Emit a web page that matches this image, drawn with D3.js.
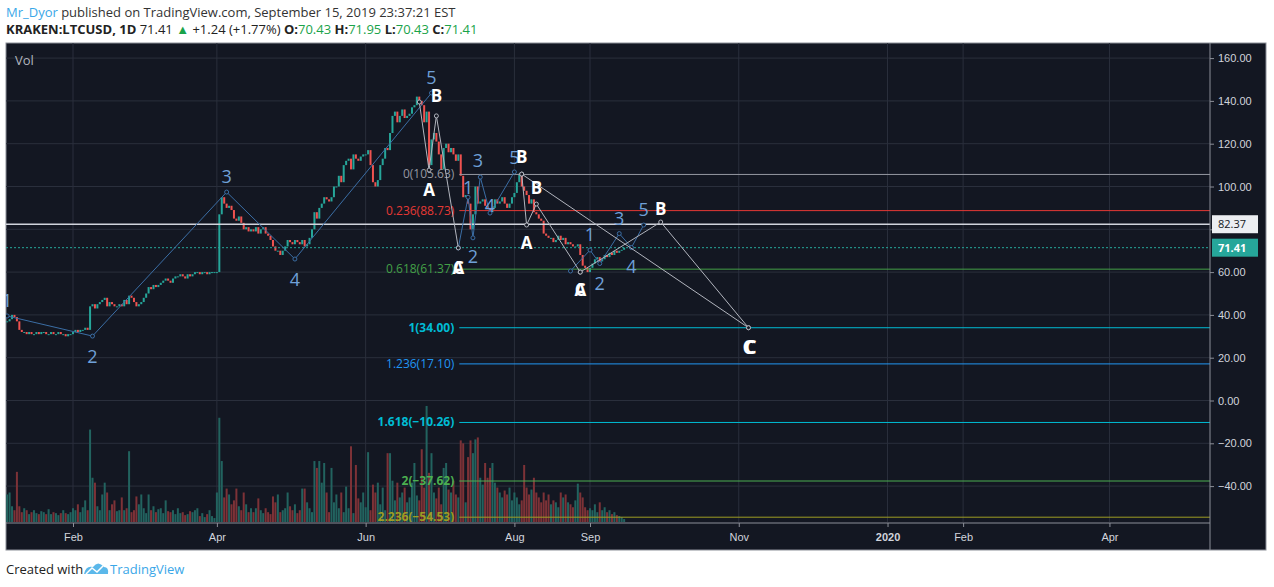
<!DOCTYPE html>
<html><head><meta charset="utf-8">
<script src="https://cdn.jsdelivr.net/npm/d3@7"></script>
<style>body{margin:0;background:#fff}svg{display:block;font-family:"Open Sans",sans-serif}</style>
</head><body><svg id="c" width="1274" height="587"></svg>
<script>
// ---------- DATA ----------
const startDate = "2019-01-05";
const closeJan = [37,38,40,39,37,33,32,32,31,32,31,31,32,31,32,32,31,31,32,31,31,32,31,31,30,31,31];
const closeFeb = [32,33,32,33,33,34,33,44,45,43,45,46,47,48,44,46,45,44,44,45,44,47,45,49,48,46,44,45];
const closeMar = [46,48,50,53,52,54,53,54,55,56,57,56,55,57,58,58,59,58,57,59,58,59,60,60,59,60,60,59,60,60,60];
const closeApr = [60,87,95,92,90,91,89,85,84,86,83,80,81,79,80,79,81,78,80,81,78,77,75,72,70,70,68,70,72,75];
const closeMay = [74,73,75,74,73,75,72,73,76,80,88,85,90,92,95,94,93,95,100,100,105,102,110,112,113,108,115,113,112,114,115];
const closeJun = [115,117,110,102,100,103,110,113,118,117,125,133,135,130,133,136,132,133,134,137,138,142,140,138,130,135,110,122,125,121];
const closeJul = [115,108,118,120,116,118,115,112,115,105,95,96,92,80,87,100,92,93,94,91,90,88,90,94,92,93,95,92,90,92,95];
const closeAug = [97,102,106,100,98,96,92,94,88,87,85,84,78,77,76,76,74,75,77,75,76,73,74,73,72,72,73,68,63,62,60];
const closeSep = [62,64,66,67,65,66,68,67,69,68,70,69,70,70.43,71.41];
const volJan = [28,30,16,12,51,16,10,14,12,8,10,12,9,8,11,10,8,13,8,10,9,7,9,12,9,8,10];
const volFeb = [14,12,18,10,15,22,12,94,45,40,16,12,28,40,30,12,18,22,11,12,25,12,14,72,10,12,26,18];
const volMar = [28,14,9,28,12,16,10,13,14,9,22,11,10,12,8,14,9,10,7,8,11,10,12,14,6,9,5,8,12,6,4];
const volApr = [30,106,62,25,34,28,18,22,34,16,12,30,18,10,14,10,14,24,12,9,14,10,8,26,20,28,10,12,14,30];
const volMay = [16,12,18,9,12,34,34,20,14,10,62,55,62,40,60,30,10,55,20,28,14,30,10,36,14,77,9,58,24,20,30];
const volJun = [15,71,12,38,30,40,18,35,12,70,70,42,22,40,25,30,35,20,25,40,60,27,22,74,35,118,50,70,30,24];
const volJul = [35,18,55,60,33,30,42,28,25,83,80,20,66,83,70,84,86,45,38,60,45,55,60,40,35,30,25,32,28,35,22];
const volAug = [30,25,18,22,58,35,28,33,45,30,25,20,30,22,28,18,22,20,15,30,25,28,20,18,15,22,39,30,25,15,12];
const volSep = [14,12,18,10,20,12,15,10,12,8,10,7,6,5,3];
const priceTicks = [160,140,120,100,80,60,40,20,0,-20,-40];
const hiddenTickLabels = [80];
const monthTicks = [["2019-02-01","Feb"],["2019-04-01","Apr"],["2019-06-01","Jun"],["2019-08-01","Aug"],["2019-09-01","Sep"],["2019-11-01","Nov"],["2020-01-01","2020"],["2020-02-01","Feb"],["2020-04-01","Apr"]];
const fibAnchor = "2019-07-09";
const fibLevels = [["0(105.63)",105.63,"#9598a1"],["0.236(88.73)",88.73,"#e53935"],["0.618(61.37)",61.37,"#43a047"],["1(34.00)",34.00,"#00bcd4"],["1.236(17.10)",17.10,"#2196f3"],["1.618(−10.26)",-10.26,"#00bcd4"],["2(−37.62)",-37.62,"#4caf50"],["2.236(−54.53)",-54.53,"#9e9d24"]];
const waveBlue1 = [["2019-01-05",39.5],["2019-02-09",30.1],["2019-04-05",97.4],["2019-05-03",66.1],["2019-06-28",143.7]];
const waveBlue2 = [["2019-07-09",71.3],["2019-07-13",95],["2019-07-15",76],["2019-07-18",104.4],["2019-07-22",87.6],["2019-08-01",106.8]];
const waveBlue3 = [["2019-08-24",60.5],["2019-09-01",70.3],["2019-09-05",64],["2019-09-13",78],["2019-09-18",71.5],["2019-09-23",82]];
const waveWhite1 = [["2019-06-23",139.5],["2019-06-27",107.7],["2019-06-30",133],["2019-07-09",71.3]];
const waveWhite2 = [["2019-08-04",105.8],["2019-08-06",82],["2019-08-10",91.8],["2019-08-28",60]];
const waveWhite3 = [["2019-08-04",105.8],["2019-11-05",34]];
const waveWhite4 = [["2019-08-28",60],["2019-09-30",83.4],["2019-11-05",34]];
const blueLabels = [["1","2019-01-05",47],["2","2019-02-09",20.8],["3","2019-04-05",105],["4","2019-05-03",56.8],["5","2019-06-28",151],
 ["1","2019-07-13",99.8],["2","2019-07-15",67.5],["3","2019-07-17",112.4],["4","2019-07-22",91.4],["5","2019-08-01",113.8],
 ["1","2019-09-01",78],["2","2019-09-05",55],["3","2019-09-13",85.3],["4","2019-09-18",62.8],["5","2019-09-23",89.5]];
const whiteLabels = [["A","2019-06-27",98.4],["B","2019-06-30",142.3],["C","2019-07-09",61.9],["A","2019-07-09",61.9],
 ["B","2019-08-04",113.8],["A","2019-08-06",73.6],["B","2019-08-10",99.3],["C","2019-08-28",51.6],["A","2019-08-28",51.6],["B","2019-09-30",89.5]];
const bigLabels = [["C","2019-11-05",25]];
const hLineWhite = 82.37, lastPrice = 71.41;

// ---------- SCALES ----------
const parse = d3.utcParse("%Y-%m-%d");
const P = s => parse(s.slice(0,10));
const x = d3.scaleUtc().domain([P("2019-02-01"),P("2019-09-01")]).range([73,590]);
const y = d3.scaleLinear().domain([0,160]).range([400.5,58.1]);
const yv = d3.scaleLinear().domain([0,120]).range([522,404]);
const L=6, R=1210, T=43, B=522;

const closes = [].concat(closeJan,closeFeb,closeMar,closeApr,closeMay,closeJun,closeJul,closeAug,closeSep);
const vols = [].concat(volJan,volFeb,volMar,volApr,volMay,volJun,volJul,volAug,volSep);
const t0 = P(startDate);
const bars = closes.map((c,i)=>({t:d3.utcDay.offset(t0,i), o:i?closes[i-1]:c, c, v:vols[i]}));

const svg = d3.select("#c");
svg.append("rect").attr("x",0).attr("y",0).attr("width",1274).attr("height",587).attr("fill","#fff");
const h1 = svg.append("text").attr("x",6).attr("y",17).attr("font-size",13).attr("fill","#333");
h1.append("tspan").attr("fill","#3aa7e8").text("Mr_Dyor");
h1.append("tspan").text(" published on TradingView.com, September 15, 2019 23:37:21 EST");
const h2 = svg.append("text").attr("x",6).attr("y",34).attr("font-size",13).attr("fill","#222");
h2.append("tspan").attr("font-weight","bold").text("KRAKEN:LTCUSD, 1D");
h2.append("tspan").text("  71.41 ");
h2.append("tspan").attr("fill","#1aa34a").text("▲");
h2.append("tspan").text(" +1.24 (+1.77%) ");
[["O:","70.43"],["H:","71.95"],["L:","70.43"],["C:","71.41"]].forEach(([a,b])=>{
  h2.append("tspan").attr("font-weight","bold").text(a);
  h2.append("tspan").attr("fill","#1aa34a").text(b+" ");
});
svg.append("rect").attr("x",L).attr("y",T).attr("width",1266-L).attr("height",550-T).attr("fill","#131722").attr("stroke","#8c8f98");
svg.append("defs").append("clipPath").attr("id","pc").append("rect").attr("x",L).attr("y",T).attr("width",R-L).attr("height",B-T);
const g = svg.append("g").attr("clip-path","url(#pc)");
priceTicks.forEach(p=>g.append("line").attr("x1",L).attr("x2",R).attr("y1",y(p)).attr("y2",y(p)).attr("stroke","#2a2f3c"));
monthTicks.forEach(([d])=>g.append("line").attr("x1",x(P(d))).attr("x2",x(P(d))).attr("y1",T).attr("y2",B).attr("stroke","#2a2f3c"));
svg.append("line").attr("x1",R).attr("x2",R).attr("y1",T).attr("y2",550).attr("stroke","#8c8f98");
svg.append("line").attr("x1",L).attr("x2",R).attr("y1",B+1).attr("y2",B+1).attr("stroke","#8c8f98");
g.selectAll(".v").data(bars).join("rect").attr("x",d=>x(d.t)-1).attr("width",2)
 .attr("y",d=>yv(d.v)).attr("height",d=>yv(0)-yv(d.v))
 .attr("fill",d=>d.c>=d.o?"#22635f":"#7d3237");
g.selectAll(".k").data(bars).join("rect").attr("x",d=>x(d.t)-1).attr("width",2)
 .attr("y",d=>y(Math.max(d.o,d.c))).attr("height",d=>Math.max(1,Math.abs(y(d.o)-y(d.c))))
 .attr("fill",d=>d.c>=d.o?"#26a69a":"#ef5350");
g.append("line").attr("x1",L).attr("x2",R).attr("y1",y(hLineWhite)).attr("y2",y(hLineWhite)).attr("stroke","#d1d4dc").attr("stroke-width",1.5);
g.append("line").attr("x1",L).attr("x2",R).attr("y1",y(lastPrice)).attr("y2",y(lastPrice)).attr("stroke","#26a69a").attr("stroke-dasharray","2,2");
const fx = x(P(fibAnchor));
fibLevels.forEach(([lab,v,col],i)=>{
  g.append("line").attr("x1",fx+1).attr("x2",R).attr("y1",y(v)).attr("y2",y(v)).attr("stroke",col).attr("stroke-width",1);
  g.append("text").attr("x",fx-4).attr("y",y(v)+4).attr("text-anchor","end").attr("font-size",12)
   .attr("font-weight",i>=3&&i!=4?"bold":"normal").attr("fill",col).text(lab);
});
const line = d3.line().x(d=>x(P(d[0]))).y(d=>y(d[1]));
[waveBlue1,waveBlue2,waveBlue3].forEach(w=>{
  g.append("path").attr("d",line(w)).attr("fill","none").attr("stroke","#3b6ea5").attr("stroke-width",1);
  g.selectAll(null).data(w).join("circle").attr("cx",d=>x(P(d[0]))).attr("cy",d=>y(d[1])).attr("r",2).attr("fill","#131722").attr("stroke","#3b6ea5");
});
[waveWhite1,waveWhite2,waveWhite3,waveWhite4].forEach(w=>{
  g.append("path").attr("d",line(w)).attr("fill","none").attr("stroke","#b2b5be").attr("stroke-width",1);
  g.selectAll(null).data(w).join("circle").attr("cx",d=>x(P(d[0]))).attr("cy",d=>y(d[1])).attr("r",2).attr("fill","#131722").attr("stroke","#b2b5be");
});
blueLabels.forEach(([t,d,p])=>g.append("text").attr("x",x(P(d))).attr("y",y(p)+7).attr("text-anchor","middle").attr("font-size",18).attr("fill","#6fa0d8").text(t));
whiteLabels.forEach(([t,d,p])=>g.append("text").attr("x",x(P(d))).attr("y",y(p)+6).attr("text-anchor","middle").attr("font-size",17).attr("font-weight","bold").attr("fill","#fff").text(t));
bigLabels.forEach(([t,d,p])=>[0,2].forEach(o=>g.append("text").attr("x",x(P(d))+o).attr("y",y(p)+7).attr("text-anchor","middle").attr("font-size",19).attr("font-weight","bold").attr("fill","#fff").text(t)));
g.append("text").attr("x",15).attr("y",65).attr("font-size",13).attr("fill","#b2b5be").text("Vol");
const ya = d3.axisRight(y).tickValues(priceTicks).tickSize(4);
const ayg = svg.append("g").attr("transform",`translate(${R},0)`).call(ya);
ayg.select(".domain").remove();
ayg.selectAll("line").attr("stroke","#8c8f98");
ayg.selectAll("text").attr("fill","#d1d4dc").attr("font-size",11).attr("x",8)
  .text(d=>hiddenTickLabels.includes(d)?"":d3.format(".2f")(d).replace("-","−"));
const xa = d3.axisBottom(x).tickValues(monthTicks.map(m=>P(m[0]))).tickFormat((d,i)=>monthTicks[i][1]).tickSize(4);
const axg = svg.append("g").attr("transform",`translate(0,${B+1})`).call(xa);
axg.select(".domain").remove();
axg.selectAll("line").attr("stroke","#8c8f98");
axg.selectAll("text").attr("fill","#d1d4dc").attr("font-size",11).attr("dy","1em").attr("font-weight",(d,i)=>monthTicks[i][1]==="2020"?"bold":"normal");
function box(v,fill,tc,bold){
  const yy=y(v);
  svg.append("rect").attr("x",R+2).attr("y",yy-9).attr("width",46).attr("height",18).attr("fill",fill);
  svg.append("text").attr("x",R+8).attr("y",yy+4).attr("font-size",11).attr("font-weight",bold?"bold":"normal").attr("fill",tc).text(v.toFixed(2));
}
box(hLineWhite,"#eceef2","#131722",false);
box(lastPrice,"#26a69a","#fff",true);
svg.append("text").attr("x",6).attr("y",574).attr("font-size",13).attr("fill","#222").text("Created with");
const lg = svg.append("g").attr("transform","translate(84,562)");
lg.append("path").attr("d","M0,12 Q2,3 9,5 Q14,-2 20,5 Q25,5 24,12 Z").attr("fill","#5bb8ea");
lg.append("path").attr("d","M2,12 L8,6 L13,10 L19,4").attr("fill","none").attr("stroke","#fff").attr("stroke-width",1.5);
svg.append("text").attr("x",110).attr("y",574).attr("font-size",13).attr("fill","#3aa7e8").text("TradingView");
</script></body></html>
